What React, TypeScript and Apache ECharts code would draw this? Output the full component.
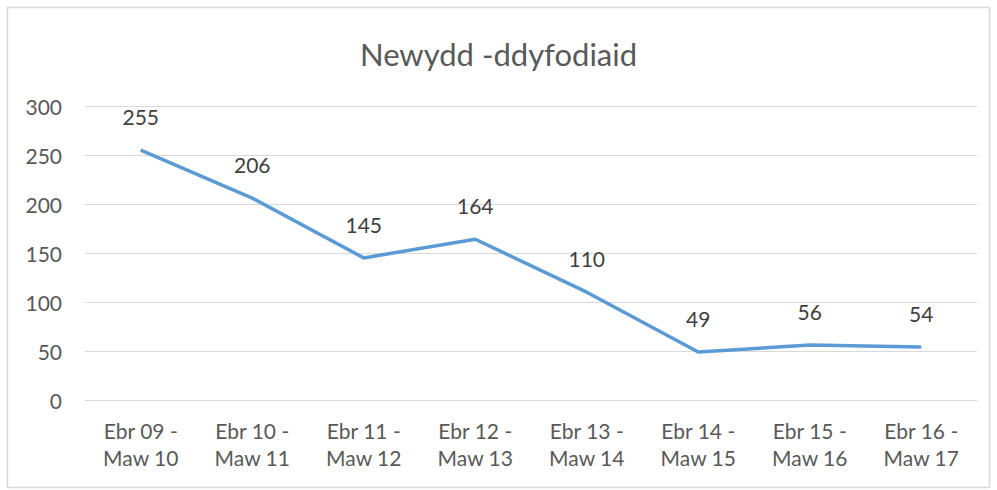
import React, { useEffect, useRef } from "react";
import * as echarts from "echarts";

const categories = [
  "Ebr 09 -\nMaw 10",
  "Ebr 10 -\nMaw 11",
  "Ebr 11 -\nMaw 12",
  "Ebr 12 -\nMaw 13",
  "Ebr 13 -\nMaw 14",
  "Ebr 14 -\nMaw 15",
  "Ebr 15 -\nMaw 16",
  "Ebr 16 -\nMaw 17",
];
const values = [255, 206, 145, 164, 110, 49, 56, 54];
const titleText = "Newydd -ddyfodiaid";

export default function App() {
  const ref = useRef<HTMLDivElement>(null);
  useEffect(() => {
    document.body.style.margin = "0";
    const chart = echarts.init(ref.current!, null, { renderer: "svg" });
    chart.setOption({
      animation: false,
      backgroundColor: "#ffffff",
      textStyle: { fontFamily: "Lato" },
      graphic: [
        {
          type: "rect",
          shape: { x: 7.5, y: 7.5, width: 982, height: 480 },
          style: { fill: "none", stroke: "#d9d9d9", lineWidth: 1.5 },
          silent: true,
        },
      ],
      title: {
        text: titleText,
        left: "center",
        top: 33,
        textStyle: { fontFamily: "Lato", fontSize: 31, fontWeight: "normal", color: "#595959" },
      },
      grid: { left: 85, right: 20, top: 106, bottom: 90, containLabel: false },
      xAxis: {
        type: "category",
        data: categories,
        boundaryGap: true,
        axisLine: { show: true, lineStyle: { color: "#d9d9d9", width: 1 } },
        axisTick: { show: false },
        axisLabel: {
          color: "#595959",
          fontSize: 21,
          fontFamily: "Lato",
          lineHeight: 27,
          margin: 17,
          interval: 0,
        },
      },
      yAxis: {
        type: "value",
        min: 0,
        max: 300,
        interval: 50,
        axisLine: { show: false },
        axisTick: { show: false },
        splitLine: { lineStyle: { color: "#d9d9d9", width: 1 } },
        axisLabel: { color: "#595959", fontSize: 21, fontFamily: "Lato", margin: 23 },
      },
      series: [
        {
          type: "line",
          data: values,
          showSymbol: true,
          symbol: "circle",
          symbolSize: 0,
          lineStyle: { color: "#5b9bd5", width: 3.5 },
          itemStyle: { color: "#5b9bd5" },
          label: {
            show: true,
            position: "top",
            distance: 23,
            color: "#404040",
            fontSize: 21,
            fontFamily: "Lato",
          },
        },
      ],
    });
    return () => chart.dispose();
  }, []);
  return <div ref={ref} style={{ width: 997, height: 490 }} />;
}
